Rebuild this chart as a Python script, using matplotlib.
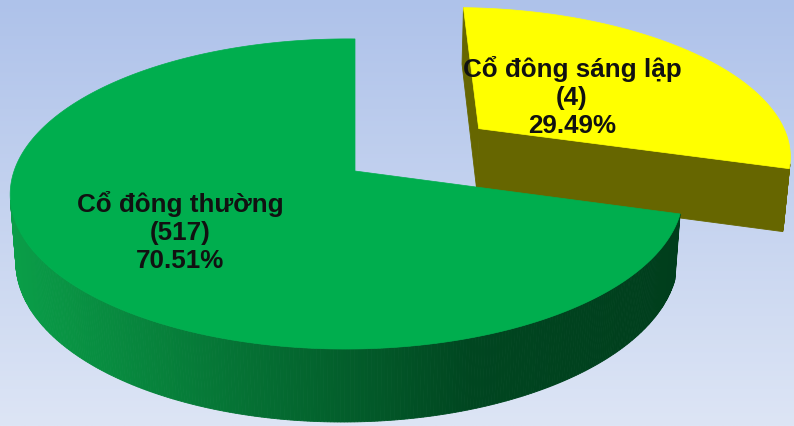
import numpy as np
import matplotlib
matplotlib.use("Agg")
import matplotlib.pyplot as plt
from matplotlib.patches import Polygon

# ---- data (clockwise from 12 o'clock) ----
categories = ["Cổ đông sáng lập", "Cổ đông thường"]
counts = [4, 517]
percents = [29.49, 70.51]
explode = [0.49, 0.0]

top_colors = ["#FFFF00", "#00AE4E"]

# ---- 3D perspective model ----
W, H = 794, 427
se, ce = np.sin(np.radians(26.4)), np.cos(np.radians(26.4))
D = 6.05          # camera distance (in pie radii)
FX, FY = 2012.0, 2063.0
TAU = 0.1485      # slight camera yaw
CX, CY = 355.0, 172.0
THICK = 0.2165
cam = np.array([0.0, -D * ce, D * se])


def proj(x, y, z):
    up = z * ce + y * se
    depth = D + y * ce - z * se
    den = depth + x * TAU
    return CX + FX * x / den, CY - FY * up / den, depth


def green_side(sx):
    t = np.clip((sx - 15) / (470 - 15), 0, 1)
    c0 = np.array([10, 158, 72]) / 255
    c1 = np.array([0, 70, 32]) / 255
    c = c0 + (c1 - c0) * t
    if sx > 470:
        t2 = np.clip((sx - 470) / 210, 0, 1)
        c = c1 + (np.array([0, 62, 28]) / 255 - c1) * t2
    return c


def side_color(i, sx):
    if i == 1:
        return green_side(sx)
    return "#666600"


fig = plt.figure(figsize=(W / 100, H / 100), dpi=100)
ax = fig.add_axes([0, 0, 1, 1])
ax.set_xlim(0, W)
ax.set_ylim(H, 0)
ax.axis("off")

# background gradient
top_bg = np.array([174, 194, 234]) / 255
bot_bg = np.array([221, 229, 245]) / 255
g = np.linspace(0, 1, 256)[:, None, None]
bg = top_bg + (bot_bg - top_bg) * g
bg = np.repeat(bg, 2, axis=1)
ax.imshow(bg, extent=[0, W, H, 0], aspect="auto", zorder=0)

# slices
cum = np.concatenate([[0], np.cumsum(percents)])
slices = []
for i, p in enumerate(percents):
    t1 = 90 - cum[i] * 3.6
    t2 = 90 - cum[i + 1] * 3.6
    mid = np.radians((t1 + t2) / 2)
    ox, oy = explode[i] * np.cos(mid), explode[i] * np.sin(mid)
    slices.append((i, t1, t2, ox, oy, np.sin(mid) + oy))

slices.sort(key=lambda s: -s[5])

for (i, t1, t2, ox, oy, _) in slices:
    faces = []
    angs = np.radians(np.linspace(t1, t2, int(abs(t1 - t2) * 2) + 2))
    for a0, a1 in zip(angs[:-1], angs[1:]):
        am = (a0 + a1) / 2
        n = np.array([np.cos(am), np.sin(am), 0])
        pm = np.array([ox + np.cos(am), oy + np.sin(am), -THICK / 2])
        if np.dot(n, cam - pm) <= 0:
            continue
        pts = []
        for (a, z) in [(a0, 0), (a1, 0), (a1, -THICK), (a0, -THICK)]:
            sx, sy, dp = proj(ox + np.cos(a), oy + np.sin(a), z)
            pts.append((sx, sy))
        _, _, dpm = proj(*pm)
        sxm = np.mean([q[0] for q in pts])
        faces.append((dpm, pts, side_color(i, sxm)))
    for a, sign in [(np.radians(t1), 1), (np.radians(t2), -1)]:
        na = a + sign * np.pi / 2
        n = np.array([np.cos(na), np.sin(na), 0])
        pm = np.array([ox + 0.5 * np.cos(a), oy + 0.5 * np.sin(a), -THICK / 2])
        if np.dot(n, cam - pm) <= 1e-6:
            continue
        pts = []
        for (r, z) in [(0, 0), (1, 0), (1, -THICK), (0, -THICK)]:
            sx, sy, dp = proj(ox + r * np.cos(a), oy + r * np.sin(a), z)
            pts.append((sx, sy))
        _, _, dpm = proj(*pm)
        sxm = np.mean([q[0] for q in pts])
        faces.append((dpm, pts, side_color(i, sxm)))
    faces.sort(key=lambda f: -f[0])
    for dpm, pts, col in faces:
        ax.add_patch(Polygon(pts, closed=True, facecolor=col, edgecolor=col,
                             linewidth=0.6, zorder=2))
    tp = [proj(ox, oy, 0)[:2]]
    for a in angs:
        tp.append(proj(ox + np.cos(a), oy + np.sin(a), 0)[:2])
    ax.add_patch(Polygon(tp, closed=True, facecolor=top_colors[i],
                         edgecolor=top_colors[i], linewidth=0.5, zorder=2))

# labels (middle-line baseline positions)
label_pos = {0: (572, 105), 1: (180, 240)}
for i, name in enumerate(categories):
    x, yb = label_pos[i]
    lines = [name, f"({counts[i]})", f"{percents[i]:.2f}%"]
    for k, ln in enumerate(lines):
        ax.text(x, yb + (k - 1) * 28, ln, ha="center", va="baseline",
                fontsize=18.7, fontweight="bold",
                family=["Liberation Sans", "DejaVu Sans"], color="#111111",
                zorder=5)

fig.savefig("out.png", dpi=100)
